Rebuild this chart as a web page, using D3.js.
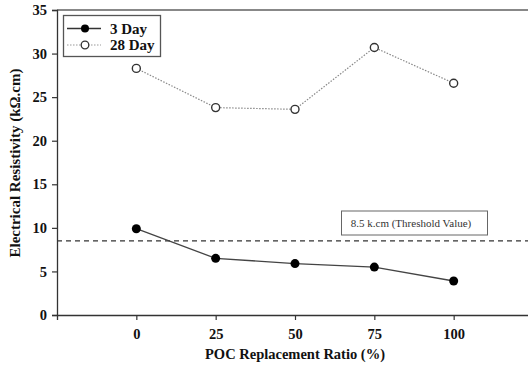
<!DOCTYPE html>
<html><head><meta charset="utf-8">
<script src="https://cdn.jsdelivr.net/npm/d3@7"></script>
<style>html,body{margin:0;padding:0;background:#fff;}svg{display:block;}</style>
</head><body>
<script>
const categories = [0, 25, 50, 75, 100];
const day3 = [9.9, 6.5, 5.9, 5.5, 3.9];
const day28 = [28.3, 23.8, 23.6, 30.7, 26.6];
const threshold = 8.5;
const yTicks = [0, 5, 10, 15, 20, 25, 30, 35];
const seriesNames = ["3 Day", "28 Day"];

const W = 528, H = 368;
const svg = d3.select("body").append("svg").attr("width", W).attr("height", H);
const font = "'Liberation Serif', 'Times New Roman', serif";

const x = d3.scaleLinear().domain([-25, 125]).range([57, 533]);
const y = d3.scaleLinear().domain([0, 35]).range([315, 10]);

// top border
svg.append("line").attr("x1", 57).attr("x2", W).attr("y1", y(35)).attr("y2", y(35))
  .attr("stroke", "#888").attr("stroke-width", 2);

// y axis
const yAxis = svg.append("g").attr("transform", "translate(57,0)")
  .call(d3.axisLeft(y).tickValues(yTicks).tickSize(5).tickPadding(5).tickFormat(d3.format("d")));
yAxis.select(".domain").attr("stroke", "#333").attr("stroke-width", 1.3);
yAxis.selectAll(".tick line").attr("stroke", "#333").attr("stroke-width", 1.2);
yAxis.selectAll("text").attr("font-family", font).attr("font-weight", "bold").attr("font-size", 14.5).attr("fill", "#111");

// x axis
const xAxis = svg.append("g").attr("transform", "translate(0,315)")
  .call(d3.axisBottom(x).tickValues(categories).tickSize(5).tickPadding(9).tickFormat(d3.format("d")));
xAxis.select(".domain").attr("stroke", "#333").attr("stroke-width", 1.3);
xAxis.selectAll(".tick line").attr("stroke", "#333").attr("stroke-width", 1.2);
xAxis.selectAll("text").attr("font-family", font).attr("font-weight", "bold").attr("font-size", 14.5).attr("fill", "#111");

// threshold
svg.append("line").attr("x1", 57).attr("x2", W).attr("y1", y(threshold)).attr("y2", y(threshold))
  .attr("stroke", "#333").attr("stroke-width", 1.3).attr("stroke-dasharray", "5,4");
svg.append("rect").attr("x", 341.5).attr("y", 211).attr("width", 146).attr("height", 24)
  .attr("fill", "#fff").attr("stroke", "#666").attr("stroke-width", 1);
svg.append("text").attr("x", 411).attr("y", 227).attr("text-anchor", "middle")
  .attr("font-family", font).attr("font-size", 11).attr("fill", "#333")
  .text("8.5 k.cm (Threshold Value)");

const line = d3.line().x((d, i) => x(categories[i])).y(d => y(d));

// 28 day
svg.append("path").datum(day28).attr("d", line).attr("fill", "none")
  .attr("stroke", "#888").attr("stroke-width", 1.2).attr("stroke-dasharray", "1.5,1.5");
svg.selectAll(".p28").data(day28).join("circle").attr("class", "p28")
  .attr("cx", (d, i) => x(categories[i])).attr("cy", d => y(d)).attr("r", 4)
  .attr("fill", "#fff").attr("stroke", "#333").attr("stroke-width", 1.4);

// 3 day
svg.append("path").datum(day3).attr("d", line).attr("fill", "none")
  .attr("stroke", "#444").attr("stroke-width", 1.3);
svg.selectAll(".p3").data(day3).join("circle").attr("class", "p3")
  .attr("cx", (d, i) => x(categories[i])).attr("cy", d => y(d)).attr("r", 4.5)
  .attr("fill", "#000");

// legend
const lg = svg.append("g");
lg.append("rect").attr("x", 63.5).attr("y", 15.5).attr("width", 97).attr("height", 41)
  .attr("fill", "#fff").attr("stroke", "#555").attr("stroke-width", 1.3);
const ly = [28.5, 45];
lg.append("line").attr("x1", 67).attr("x2", 101).attr("y1", ly[0]).attr("y2", ly[0]).attr("stroke", "#333").attr("stroke-width", 1.6);
lg.append("circle").attr("cx", 85).attr("cy", ly[0]).attr("r", 4).attr("fill", "#000");
lg.append("line").attr("x1", 67).attr("x2", 101).attr("y1", ly[1]).attr("y2", ly[1]).attr("stroke", "#999").attr("stroke-width", 1.2).attr("stroke-dasharray", "1.5,1.5");
lg.append("circle").attr("cx", 85).attr("cy", ly[1]).attr("r", 3.8).attr("fill", "#fff").attr("stroke", "#333").attr("stroke-width", 1.3);
seriesNames.forEach((n, i) => {
  lg.append("text").attr("x", 110).attr("y", ly[i] + 5).attr("font-family", font)
    .attr("font-weight", "bold").attr("font-size", 15).attr("fill", "#111").text(n);
});

// titles
svg.append("text").attr("transform", "translate(20,163) rotate(-90)").attr("text-anchor", "middle")
  .attr("font-family", font).attr("font-weight", "bold").attr("font-size", 15).attr("fill", "#111")
  .text("Electrical Resistivity (kΩ.cm)");
svg.append("text").attr("x", 295).attr("y", 359).attr("text-anchor", "middle")
  .attr("font-family", font).attr("font-weight", "bold").attr("font-size", 14.5).attr("fill", "#111")
  .text("POC Replacement Ratio (%)");
</script>
</body></html>
